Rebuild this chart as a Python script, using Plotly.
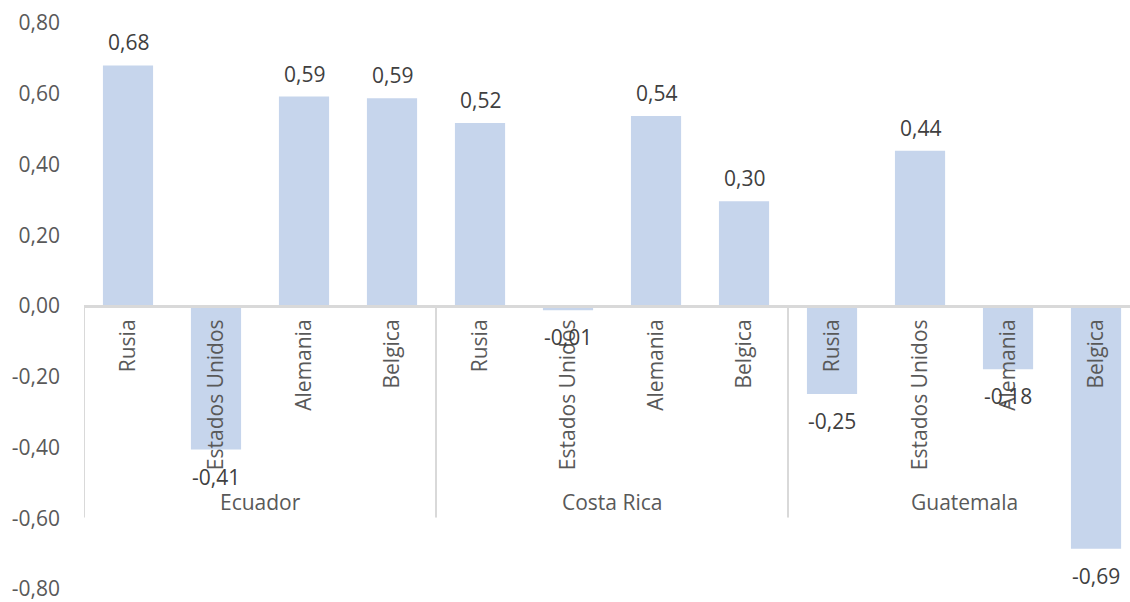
import plotly.graph_objects as go

groups = ["Ecuador", "Costa Rica", "Guatemala"]
countries = ["Rusia", "Estados Unidos", "Alemania", "Belgica"]
values = [
    0.680, -0.406, 0.592, 0.587,   # Ecuador
    0.517, -0.012, 0.537, 0.296,   # Costa Rica
    -0.249, 0.439, -0.179, -0.686, # Guatemala
]
y_ticks = [-0.8, -0.6, -0.4, -0.2, 0.0, 0.2, 0.4, 0.6, 0.8]

def fmt(v):
    s = f"{v:.2f}".replace(".", ",")
    return s

n = len(values)
xs = list(range(n))
cat_labels = [countries[i % len(countries)] for i in range(n)]

FONT = "Open Sans"
GREY = "#595959"
LINE = "#D9D9D9"
BAR = "#C6D5EC"
FS = 21

fig = go.Figure()
fig.add_trace(go.Bar(
    x=xs, y=values, marker=dict(color=BAR, line=dict(width=0)),
    hoverinfo="skip", showlegend=False,
))

annotations = []
for x, v in zip(xs, values):
    annotations.append(dict(
        x=x, y=v, xref="x", yref="y", text=fmt(v), showarrow=False,
        yanchor="middle", xanchor="center",
        yshift=23 if v >= 0 else -27,
        font=dict(family=FONT, size=FS, color="#404040"),
    ))

gsize = len(countries)
for gi, g in enumerate(groups):
    annotations.append(dict(
        x=gi * gsize + (gsize - 1) / 2, y=-0.553, xref="x", yref="y",
        text=g, showarrow=False, xanchor="center", yanchor="middle",
        font=dict(family=FONT, size=FS, color=GREY),
    ))

shapes = []
for gi in range(len(groups) + 1):
    xb = gi * gsize - 0.5
    shapes.append(dict(
        type="line", xref="x", yref="y", x0=xb, x1=xb, y0=0, y1=-0.598,
        line=dict(color=LINE, width=2), layer="below",
    ))

fig.update_layout(
    width=1130, height=602,
    margin=dict(l=84, r=0, t=23, b=10),
    paper_bgcolor="white", plot_bgcolor="white",
    bargap=0.43,
    font=dict(family=FONT, size=FS, color=GREY),
    annotations=annotations, shapes=shapes,
    xaxis=dict(
        range=[-0.5, 11.386], tickmode="array", tickvals=xs, ticktext=cat_labels,
        tickangle=-90, anchor="free", position=0.5, showline=True,
        linecolor=LINE, linewidth=3, showgrid=False, zeroline=False,
        ticks="", ticklabelstandoff=3,
        tickfont=dict(family=FONT, size=FS, color=GREY),
    ),
    yaxis=dict(
        range=[-0.8, 0.8], tickmode="array", tickvals=y_ticks,
        ticktext=[fmt(t) for t in y_ticks], showgrid=False, zeroline=False,
        showline=False, ticks="", ticklabelstandoff=23,
        ticklabeloverflow="allow",
        tickfont=dict(family=FONT, size=FS, color=GREY),
    ),
)

fig.write_html(
    "out.html",
    config={"displayModeBar": False},
    post_script="document.body.style.margin='0';document.body.style.overflow='hidden';",
)
